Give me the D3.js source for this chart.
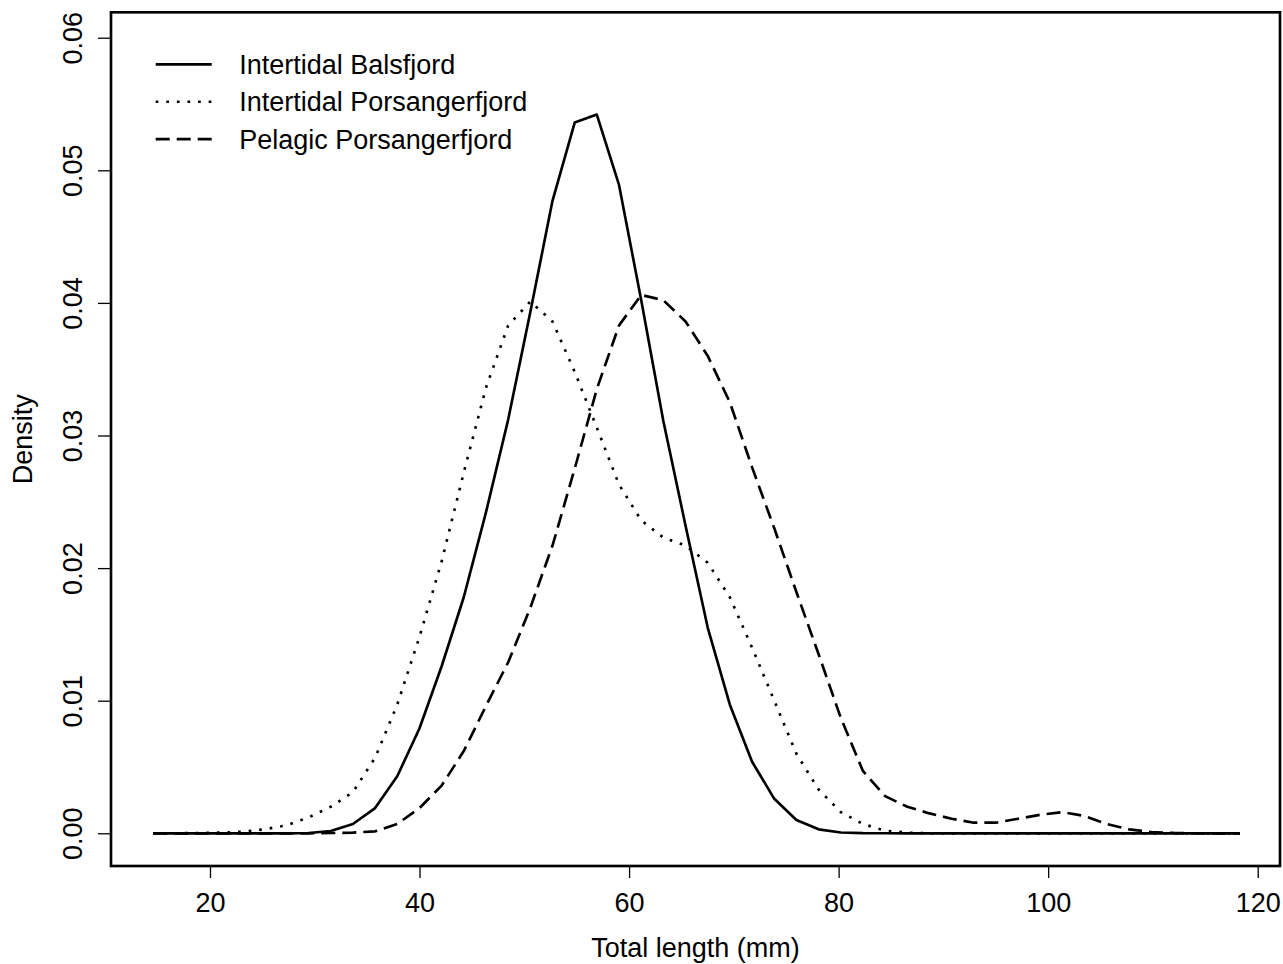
<!DOCTYPE html>
<html>
<head>
<meta charset="utf-8">
<script src="https://cdn.jsdelivr.net/npm/d3@7"></script>
<style>
    body { margin: 0; background: #fff; }
    svg text { font-family: "Liberation Sans", Arial, Helvetica, sans-serif; font-size: 27px; fill: #000; }
</style>
</head>
<body>
<div id="chartContainer"></div>
<script>
// density grid (mm), 50 points
const lengths = [14.59, 16.71, 18.82, 20.94, 23.06, 25.17, 27.29, 29.41, 31.52, 33.64,
    35.76, 37.87, 39.99, 42.11, 44.22, 46.34, 48.46, 50.57, 52.69, 54.81,
    56.92, 59.04, 61.16, 63.27, 65.39, 67.51, 69.62, 71.74, 73.86, 75.97,
    78.09, 80.21, 82.32, 84.44, 86.56, 88.67, 90.79, 92.91, 95.02, 97.14,
    99.26, 101.37, 103.49, 105.61, 107.72, 109.84, 111.96, 114.07, 116.19, 118.31];

const balsfjordIntertidal = [0, 0, 0, 0, 0, 0, 0, 0.00002, 0.00017, 0.0007,
    0.0019, 0.0043, 0.0079, 0.0126, 0.0178, 0.0242, 0.0312, 0.0393, 0.0477, 0.0536,
    0.0542, 0.0489, 0.0402, 0.0311, 0.0232, 0.0155, 0.0097, 0.0054, 0.0026, 0.0010,
    0.0003, 0.00006, 0.00001, 0, 0, 0, 0, 0, 0, 0,
    0, 0, 0, 0, 0, 0, 0, 0, 0, 0];

const porsangerIntertidal = [0, 0.000005, 0.00002, 0.00005, 0.00012, 0.0003, 0.0006, 0.0012, 0.0020, 0.0031,
    0.0057, 0.0097, 0.0148, 0.0205, 0.0272, 0.0336, 0.0383, 0.0401, 0.0386, 0.0348,
    0.0306, 0.0263, 0.0236, 0.0223, 0.0217, 0.0204, 0.0178, 0.0140, 0.0100, 0.0060,
    0.0033, 0.0016, 0.0007, 0.0002, 0.00005, 0, 0, 0, 0, 0,
    0, 0, 0, 0, 0, 0, 0, 0, 0, 0];

const porsangerPelagic = [0, 0, 0, 0, 0, 0, 0, 0, 0.00002, 0.00005,
    0.00015, 0.0007, 0.0019, 0.0036, 0.0062, 0.0096, 0.0129, 0.0170, 0.0217, 0.0275,
    0.0335, 0.0383, 0.0406, 0.0402, 0.0386, 0.0360, 0.0325, 0.0276, 0.0230, 0.0182,
    0.0135, 0.0087, 0.0047, 0.0028, 0.0020, 0.0015, 0.0011, 0.0008, 0.0008, 0.0011,
    0.0014, 0.0016, 0.0013, 0.0007, 0.0003, 0.0001, 0.00003, 0, 0, 0];

const seriesNames = ["Intertidal Balsfjord", "Intertidal Porsangerfjord", "Pelagic Porsangerfjord"];
const xTicks = [20, 40, 60, 80, 100, 120];
const yTicks = [0, 0.01, 0.02, 0.03, 0.04, 0.05, 0.06];

const width = 1283;
const height = 964;
const box = { left: 111, right: 1280, top: 12.3, bottom: 866 };
const lineWidth = 2.65;
const dashes = [null, "2.65,7.95", "14,7"];

const svg = d3.select("#chartContainer")
              .append("svg")
              .attr("width", width)
              .attr("height", height);

const x = d3.scaleLinear().domain([20, 120]).range([210, 1257.7]);
const y = d3.scaleLinear().domain([0, 0.06]).range([833.3, 37.7]);

// x axis
const xAxis = svg.append("g")
   .attr("transform", `translate(0,${box.bottom})`)
   .call(d3.axisBottom(x).tickValues(xTicks).tickSize(12).tickFormat(d3.format("d")));
xAxis.select(".domain").remove();
xAxis.selectAll(".tick line").attr("stroke", "#000").attr("stroke-width", 1.3);
xAxis.selectAll(".tick text")
     .attr("y", 45.7)
     .attr("dy", 0)
     .style("font-size", "27px");

// y axis, labels parallel to the axis
const yAxis = svg.append("g")
   .attr("transform", `translate(${box.left},0)`)
   .call(d3.axisLeft(y).tickValues(yTicks).tickSize(13).tickFormat(d3.format(".2f")));
yAxis.select(".domain").remove();
yAxis.selectAll(".tick line").attr("stroke", "#000").attr("stroke-width", 1.3);
yAxis.selectAll(".tick text")
     .attr("transform", "rotate(-90)")
     .attr("x", 0)
     .attr("y", -29)
     .attr("dy", 0)
     .attr("text-anchor", "middle")
     .style("font-size", "27px");

// frame
svg.append("rect")
   .attr("x", box.left)
   .attr("y", box.top)
   .attr("width", box.right - box.left)
   .attr("height", box.bottom - box.top)
   .attr("fill", "none")
   .attr("stroke", "#000")
   .attr("stroke-width", lineWidth);

// density curves
const series = [balsfjordIntertidal, porsangerIntertidal, porsangerPelagic];
const line = d3.line()
    .x((d, i) => x(lengths[i]))
    .y(d => y(d));

series.forEach((values, k) => {
    svg.append("path")
       .datum(values)
       .attr("d", line)
       .attr("fill", "none")
       .attr("stroke", "#000")
       .attr("stroke-width", lineWidth)
       .attr("stroke-linejoin", "round")
       .attr("stroke-dasharray", dashes[k]);
});

// legend
const legend = svg.append("g").attr("transform", "translate(155.7,64.3)");
seriesNames.forEach((name, k) => {
    const row = legend.append("g").attr("transform", `translate(0,${k * 37.4})`);
    row.append("line")
       .attr("x1", 0).attr("x2", 56)
       .attr("y1", 0).attr("y2", 0)
       .attr("stroke", "#000")
       .attr("stroke-width", lineWidth)
       .attr("stroke-dasharray", dashes[k]);
    row.append("text")
       .attr("x", 83.5)
       .attr("y", 9.6)
       .text(name);
});

// axis titles
svg.append("text")
   .attr("x", (box.left + box.right) / 2)
   .attr("y", 957)
   .attr("text-anchor", "middle")
   .text("Total length (mm)");

svg.append("text")
   .attr("transform", `translate(32,${(box.top + box.bottom) / 2}) rotate(-90)`)
   .attr("text-anchor", "middle")
   .text("Density");
</script>
</body>
</html>
